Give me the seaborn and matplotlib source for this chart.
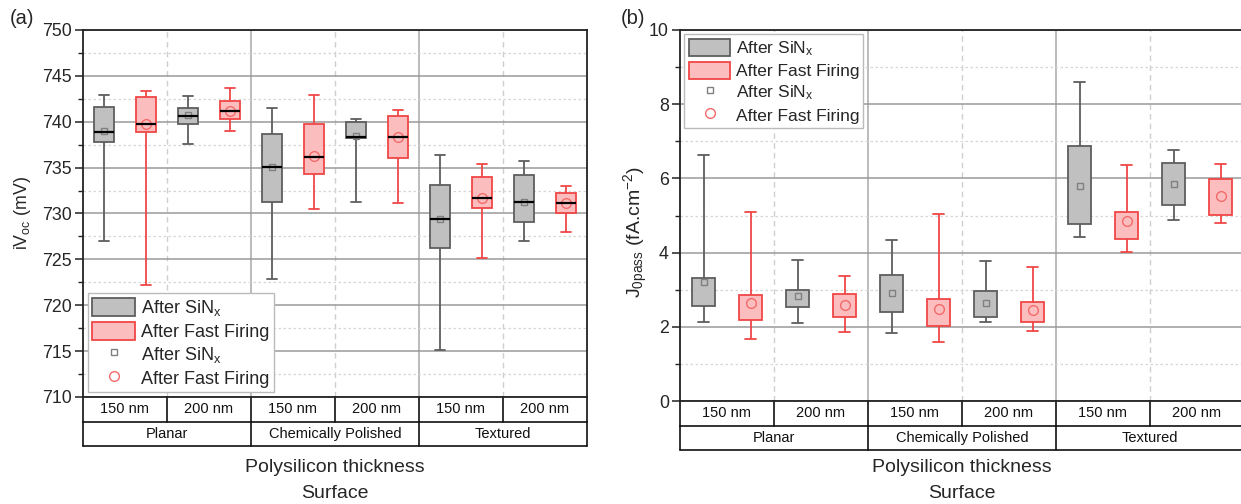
import numpy as np
import pandas as pd
import matplotlib
matplotlib.use("Agg")
import matplotlib.pyplot as plt
import seaborn as sns
from matplotlib.patches import Patch
from matplotlib.lines import Line2D
from matplotlib import transforms as mtransforms
from matplotlib.ticker import MultipleLocator

# ---------------- data ----------------
surfaces = ["Planar", "Chemically Polished", "Textured"]
thicknesses = ["150 nm", "200 nm"]
treatments = ["SiNx", "FF"]
treatment_labels = ["After SiN$\\mathregular{_x}$", "After Fast Firing"]

voc_sin_min = [727.0, 737.6, 722.9, 731.2, 715.1, 727.0]
voc_sin_q1 = [737.8, 739.75, 731.2, 738.2, 726.2, 729.1]
voc_sin_med = [738.9, 740.66, 735.1, 738.3, 729.4, 731.25]
voc_sin_q3 = [741.6, 741.5, 738.7, 740.0, 733.1, 734.2]
voc_sin_max = [742.9, 742.85, 741.5, 740.3, 736.4, 735.7]
voc_sin_mean = [739.0, 740.7, 735.1, 738.5, 729.4, 731.3]

voc_ff_min = [722.2, 739.0, 730.5, 731.1, 725.1, 728.0]
voc_ff_q1 = [738.85, 740.3, 734.3, 736.1, 730.6, 730.0]
voc_ff_med = [739.8, 741.2, 736.2, 738.3, 731.7, 731.1]
voc_ff_q3 = [742.7, 742.3, 739.8, 740.6, 734.0, 732.2]
voc_ff_max = [743.3, 743.7, 742.95, 741.3, 735.4, 733.0]
voc_ff_mean = [739.8, 741.2, 736.3, 738.3, 731.7, 731.1]

# J0pass (fA.cm-2)
j0_sin_min = [2.14, 2.11, 1.84, 2.13, 4.41, 4.89]
j0_sin_q1 = [2.55, 2.53, 2.39, 2.27, 4.76, 5.29]
j0_sin_med = [3.20, 2.80, 2.90, 2.60, 5.80, 5.80]
j0_sin_q3 = [3.32, 3.00, 3.40, 2.96, 6.86, 6.42]
j0_sin_max = [6.63, 3.80, 4.33, 3.77, 8.61, 6.77]
j0_sin_mean = [3.22, 2.83, 2.92, 2.63, 5.79, 5.84]

j0_ff_min = [1.67, 1.87, 1.59, 1.89, 4.02, 4.80]
j0_ff_q1 = [2.18, 2.27, 2.01, 2.14, 4.37, 5.01]
j0_ff_med = [2.60, 2.60, 2.50, 2.45, 4.80, 5.50]
j0_ff_q3 = [2.85, 2.88, 2.75, 2.67, 5.09, 5.98]
j0_ff_max = [5.10, 3.36, 5.05, 3.61, 6.36, 6.38]
j0_ff_mean = [2.64, 2.58, 2.48, 2.45, 4.84, 5.53]

cats = [f"{s} {t}" for s in surfaces for t in thicknesses]


def long_box_df(sin_stats, ff_stats):
    rows = []
    for trt, stats in zip(treatments, [sin_stats, ff_stats]):
        for i, c in enumerate(cats):
            for arr in stats:
                rows.append((c, trt, arr[i]))
    return pd.DataFrame(rows, columns=["cat", "trt", "val"])


def mean_df(sin_mean, ff_mean):
    rows = []
    for trt, arr in zip(treatments, [sin_mean, ff_mean]):
        for i, c in enumerate(cats):
            rows.append((c, trt, arr[i]))
    return pd.DataFrame(rows, columns=["cat", "trt", "val"])


voc_box = long_box_df([voc_sin_min, voc_sin_q1, voc_sin_med, voc_sin_q3, voc_sin_max],
                      [voc_ff_min, voc_ff_q1, voc_ff_med, voc_ff_q3, voc_ff_max])
voc_mean = mean_df(voc_sin_mean, voc_ff_mean)
j0_box = long_box_df([j0_sin_min, j0_sin_q1, j0_sin_med, j0_sin_q3, j0_sin_max],
                     [j0_ff_min, j0_ff_q1, j0_ff_med, j0_ff_q3, j0_ff_max])
j0_mean = mean_df(j0_sin_mean, j0_ff_mean)

# ---------------- style ----------------
sns.set_theme(style="white")
plt.rcParams["font.family"] = ["Liberation Sans", "DejaVu Sans"]
plt.rcParams["mathtext.fontset"] = "custom"
plt.rcParams["mathtext.rm"] = "Liberation Sans"

face = {"SiNx": "#C0C0C0", "FF": "#FBBDBD"}
edge = {"SiNx": "#5E5E5E", "FF": "#F04646"}
mean_col = {"SiNx": "#808080", "FF": "#F46A6A"}
mean_marker = {"SiNx": "s", "FF": "o"}
mean_size = {"SiNx": 5, "FF": 7}

W, H = 1241, 504
fig = plt.figure(figsize=(W / 100, H / 100), dpi=100)
axA = fig.add_axes([83 / W, 1 - 397 / H, (587 - 83) / W, (397 - 30) / H])
axB = fig.add_axes([680 / W, 1 - 401 / H, (1244 - 680) / W, (401 - 30) / H])


def draw_panel(ax, box_df, m_df, show_median):
    for trt in treatments:
        sub = box_df[box_df["trt"] == trt]
        med = {"color": "black", "linewidth": 1.6} if show_median else {"visible": False}
        sns.boxplot(data=sub, x="cat", y="val", hue="trt", order=cats, hue_order=treatments,
                    palette=face, saturation=1, linecolor=edge[trt], linewidth=1.3,
                    width=1.0, gap=0.52, whis=(0, 100), showfliers=False, dodge=True,
                    legend=False, medianprops=med, ax=ax)
    for trt in treatments:
        sub = m_df[m_df["trt"] == trt]
        sns.pointplot(data=sub, x="cat", y="val", hue="trt", order=cats, hue_order=treatments,
                      palette=mean_col, dodge=0.5, markers=[mean_marker[trt]] * 2,
                      linestyles=["none", "none"], errorbar=None, legend=False,
                      markersize=mean_size[trt], markerfacecolor="none",
                      markeredgewidth=1.0, ax=ax)
    ax.set_xlim(-0.5, len(cats) - 0.5)
    ax.set_xlabel("")
    ax.tick_params(axis="x", bottom=False, labelbottom=False)
    ax.grid(False)
    ax.set_axisbelow(True)
    ax.yaxis.grid(True, which="major", color="#9A9A9A", linewidth=1.1, linestyle="-", zorder=0)
    ax.yaxis.grid(True, which="minor", color="#D6D6D6", linewidth=0.9, linestyle=(0, (2, 2)), zorder=0)
    for xb in [1.5, 3.5]:
        ax.axvline(xb, color="#A8A8A8", linewidth=1.1, zorder=0.5)
    for xb in [0.5, 2.5, 4.5]:
        ax.axvline(xb, color="#CFCFCF", linewidth=1.0, linestyle=(0, (4, 3)), zorder=0.5)
    for sp in ax.spines.values():
        sp.set_visible(True)
        sp.set_color("#222222")
        sp.set_linewidth(1.3)
    ax.tick_params(axis="y", which="major", direction="out", length=6, width=1.1,
                   color="#222222", labelsize=12.8, pad=2, left=True)
    ax.tick_params(axis="y", which="minor", direction="out", length=3.5, width=1.0,
                   color="#222222", left=True)

    # category table below the axis
    trans = mtransforms.blended_transform_factory(ax.transData, ax.transAxes)
    h_px = ax.get_position().height * H
    r = 24.5 / h_px
    lk = dict(color="#111111", linewidth=1.2, clip_on=False, transform=trans)
    ax.plot([-0.5, len(cats) - 0.5], [-r, -r], **lk)
    ax.plot([-0.5, len(cats) - 0.5], [-2 * r, -2 * r], **lk)
    for xb in np.arange(-0.5, len(cats), 1.0):
        ax.plot([xb, xb], [0, -r], **lk)
    for xb in [-0.5, 1.5, 3.5, 5.5]:
        ax.plot([xb, xb], [-r, -2 * r], **lk)
    for i, c in enumerate(cats):
        ax.text(i, -0.5 * r, thicknesses[i % 2], transform=trans, ha="center", va="center",
                fontsize=10.5, color="#111111")
    for j, s in enumerate(surfaces):
        ax.text(2 * j + 0.5, -1.5 * r, s, transform=trans, ha="center", va="center",
                fontsize=10.5, color="#111111")


draw_panel(axA, voc_box, voc_mean, True)
axA.set_ylim(710, 750)
axA.yaxis.set_major_locator(MultipleLocator(5))
axA.yaxis.set_minor_locator(MultipleLocator(2.5))
axA.set_ylabel("iV$\\mathregular{_{oc}}$ (mV)", fontsize=12.8)
axA.yaxis.set_label_coords(-0.100, 0.50)

draw_panel(axB, j0_box, j0_mean, False)
axB.set_ylim(0, 10)
axB.yaxis.set_major_locator(MultipleLocator(2))
axB.yaxis.set_minor_locator(MultipleLocator(1))
axB.set_ylabel("J$\\mathregular{_{0pass}}$ (fA.cm$\\mathregular{^{-2}}$)", fontsize=14)
axB.yaxis.set_label_coords(-0.053, 0.455)

# legends
def legend_handles():
    return [
        Patch(facecolor=face["SiNx"], edgecolor=edge["SiNx"], linewidth=1.3, label=treatment_labels[0]),
        Patch(facecolor=face["FF"], edgecolor=edge["FF"], linewidth=1.3, label=treatment_labels[1]),
        Line2D([], [], marker="s", linestyle="none", markerfacecolor="none",
               markeredgecolor=mean_col["SiNx"], markersize=5, label=treatment_labels[0]),
        Line2D([], [], marker="o", linestyle="none", markerfacecolor="none",
               markeredgecolor=mean_col["FF"], markersize=7, label=treatment_labels[1]),
    ]


for ax, loc, fs in [(axA, "lower left", 13), (axB, "upper left", 12.5)]:
    leg = ax.legend(handles=legend_handles(), loc=loc, fontsize=fs, frameon=True, fancybox=False,
                    edgecolor="#BBBBBB", framealpha=1, borderpad=0.25, labelspacing=0.2,
                    handlelength=2.4, handleheight=1.2, handletextpad=0.3, borderaxespad=0.25)
    leg.get_frame().set_linewidth(1.0)
    leg.set_zorder(10)

# axis titles below tables
for ax in [axA, axB]:
    pos = ax.get_position()
    xc = min((pos.x0 + pos.x1) / 2, (pos.x0 + 1.0) / 2 + 0.001)
    fig.text(xc, 1 - 468 / H, "Polysilicon thickness", ha="center", va="center", fontsize=14)
    fig.text(xc, 1 - 493 / H, "Surface", ha="center", va="center", fontsize=14)

fig.text(10 / W, 1 - 18 / H, "(a)", ha="left", va="center", fontsize=14.5)
fig.text(621 / W, 1 - 18 / H, "(b)", ha="left", va="center", fontsize=14.5)

fig.savefig("out.png", dpi=100)
